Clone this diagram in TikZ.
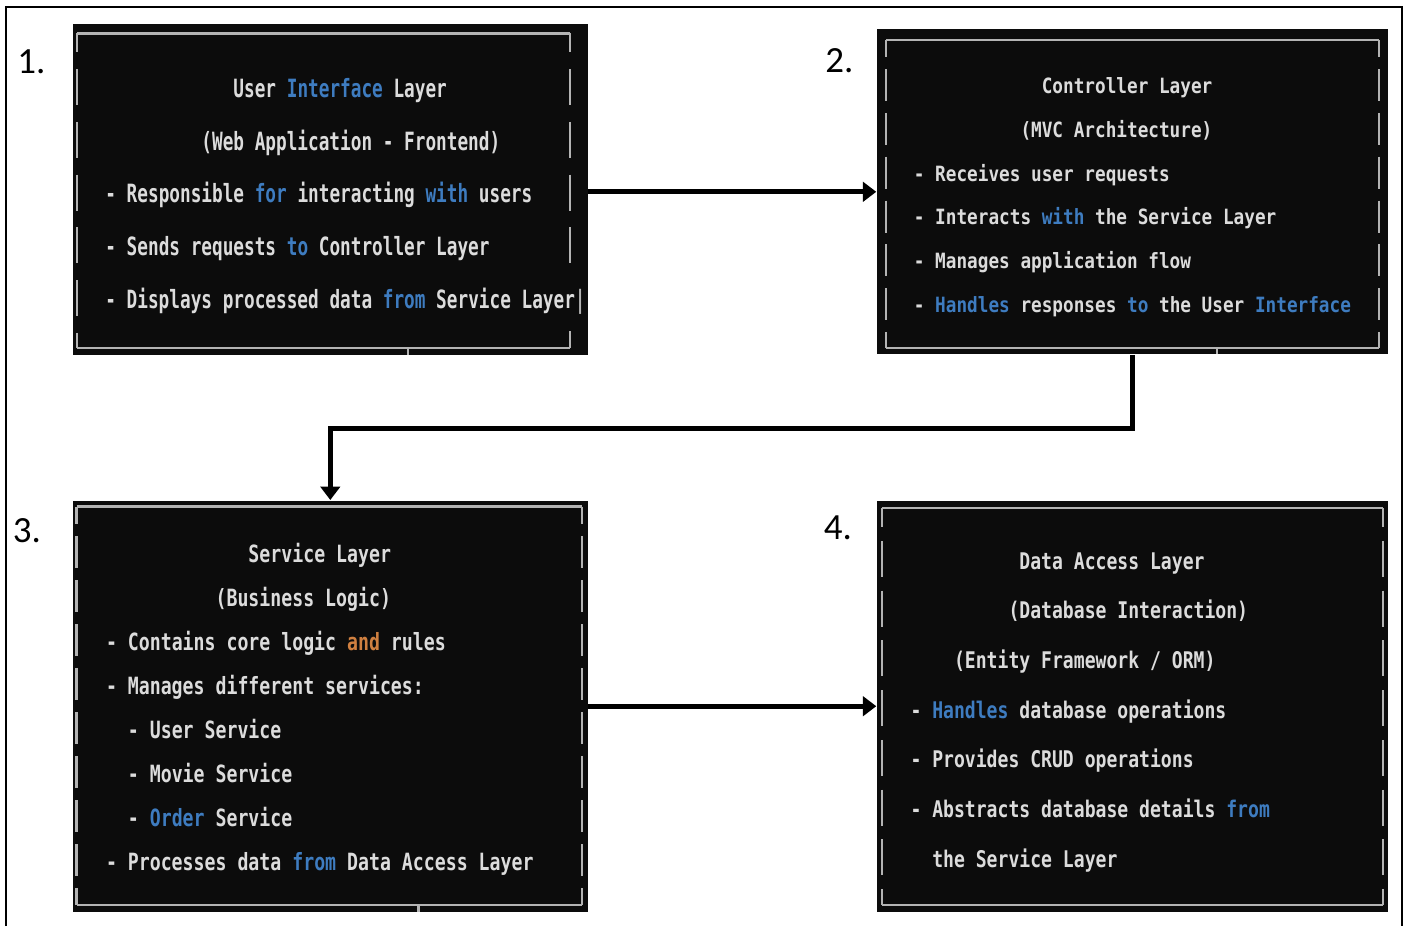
\documentclass[tikz,border=0pt]{standalone}
\usepackage{fontspec}
\usepackage{tikz}
\usetikzlibrary{arrows.meta}
\usetikzlibrary{fit}
\usetikzlibrary{positioning}
\newfontfamily\uifont[FakeStretch=0.705]{DejaVu Sans Mono}
\newfontfamily\ctlfont[FakeStretch=0.842]{DejaVu Sans Mono}
\newfontfamily\svcfont[FakeStretch=0.767]{DejaVu Sans Mono}
\newfontfamily\dalfont[FakeStretch=0.789]{DejaVu Sans Mono}
\newfontfamily\numfont{Carlito}
\definecolor{termbg}{HTML}{0C0C0C}
\definecolor{termfg}{HTML}{DCDCDC}
\definecolor{framegray}{HTML}{B4B4B4}
\definecolor{kwblue}{HTML}{3E7CC0}
\definecolor{kworange}{HTML}{D08040}
\newcommand*\kw[1]{\textcolor{kwblue}{#1}}
\newcommand*\kwo[1]{\textcolor{kworange}{#1}}
\newcommand*\ind[1]{\hspace*{#1\fontcharwd\font`0}}
\tikzset{
    layerbox/.style = {fill=termbg,inner sep=0},
    layertext/.style = {anchor=north west,inner sep=0,align=left,text=termfg},
    frameline/.style = {draw=framegray,line width=0.8pt},
    flow/.style = {line width=1.5pt,-{Triangle[length=3.8pt,width=5.5pt]}},
    stepnum/.style = {font=\numfont\fontsize{10.5}{12}\selectfont,inner sep=0}
}
\begin{document}
\begin{tikzpicture}[x=0.01cm,y=-0.01cm]
    \useasboundingbox (0,0) rectangle (1408,926);
    \draw[line width=0.6pt] (6,926) |- (1402,7) -- (1402,926);
    % Layers
    \node[layerbox,fit={(73,24) (587.6,355)}] (ui) {};
    \node[layerbox,fit={(877,29.3) (1387.6,354.3)}] (ctl) {};
    \node[layerbox,fit={(73,500.7) (587.6,911.7)}] (svc) {};
    \node[layerbox,fit={(877,500.7) (1387.6,911.7)}] (dal) {};
    % Terminal frames
    \draw[frameline] (77,33.3) -- (570,33.3) (77,348) -- (570,348) (408,348) -- (408,355);
    \draw[frameline,dash pattern=on 0.36cm off 0.1675cm,dash phase=0.17cm]
        (77,33.3) -- (77,348) (570,33.3) -- (570,270);
    \draw[frameline] (570,331) -- (570,348);
    \draw[frameline] (886,40) -- (1379,40) (886,348) -- (1379,348) (1217,348) -- (1217,354.3);
    \draw[frameline,dash pattern=on 0.32cm off 0.118cm,dash phase=0.148cm]
        (886,40) -- (886,348) (1379,40) -- (1379,348);
    \draw[frameline] (76.6,506.7) -- (582,506.7) (76.6,905) -- (582,905) (418.6,905) -- (418.6,911.7);
    \draw[frameline,dash pattern=on 0.32cm off 0.12cm,dash phase=0.147cm]
        (76.6,506.7) -- (76.6,905) (582,506.7) -- (582,905);
    \draw[frameline] (882,508) -- (1383,508) (882,905) -- (1383,905);
    \draw[frameline,dash pattern=on 0.36cm off 0.1367cm,dash phase=0.167cm]
        (882,508) -- (882,905) (1383,508) -- (1383,905);
    % Texts
    \node[layertext,font={\uifont\bfseries\fontsize{7.15}{15}\selectfont}] (ui-text) at (104.7,77.6) {%
        \ind{12}User \kw{Interface} Layer\\
        \ind{9}(Web Application - Frontend)\\
        - Responsible \kw{for} interacting \kw{with} users\\
        - Sends requests \kw{to} Controller Layer\\
        - Displays processed data \kw{from} Service Layer\textcolor{framegray}{|}};
    \node[layertext,font={\ctlfont\bfseries\fontsize{5.98}{12.46}\selectfont}] (ctl-text) at (913.2,76.7) {%
        \ind{12}Controller Layer\\
        \ind{10}(MVC Architecture)\\
        - Receives user requests\\
        - Interacts \kw{with} the Service Layer\\
        - Manages application flow\\
        - \kw{Handles} responses \kw{to} the User \kw{Interface}};
    \node[layertext,font={\svcfont\bfseries\fontsize{6.75}{12.52}\selectfont}] (svc-text) at (105.3,542.7) {%
        \ind{13}Service Layer\\
        \ind{10}(Business Logic)\\
        - Contains core logic \kwo{and} rules\\
        - Manages different services:\\
        \ind{2}- User Service\\
        \ind{2}- Movie Service\\
        \ind{2}- \kw{Order} Service\\
        - Processes data \kw{from} Data Access Layer};
    \node[layertext,font={\dalfont\bfseries\fontsize{6.52}{14.13}\selectfont}] (dal-text) at (909.8,551.6) {%
        \ind{10}Data Access Layer\\
        \ind{9}(Database Interaction)\\
        \ind{4}(Entity Framework / ORM)\\
        - \kw{Handles} database operations\\
        - Provides CRUD operations\\
        - Abstracts database details \kw{from}\\
        \ind{2}the Service Layer};
    % Steps
    \node[stepnum] (n1) at (31.5,61.3) {1.};
    \node[stepnum] (n2) at (839.5,60.7) {2.};
    \node[stepnum] (n3) at (27,531) {3.};
    \node[stepnum] (n4) at (838,528) {4.};
    % Flow
    \draw[flow] (ui.east |- ctl.west) -- (ctl.west);
    \draw[flow] (ctl.south) -- ++(0,73.7) -| (svc.north);
    \draw[flow] (svc.east) -- (dal.west);
\end{tikzpicture}
\end{document}
